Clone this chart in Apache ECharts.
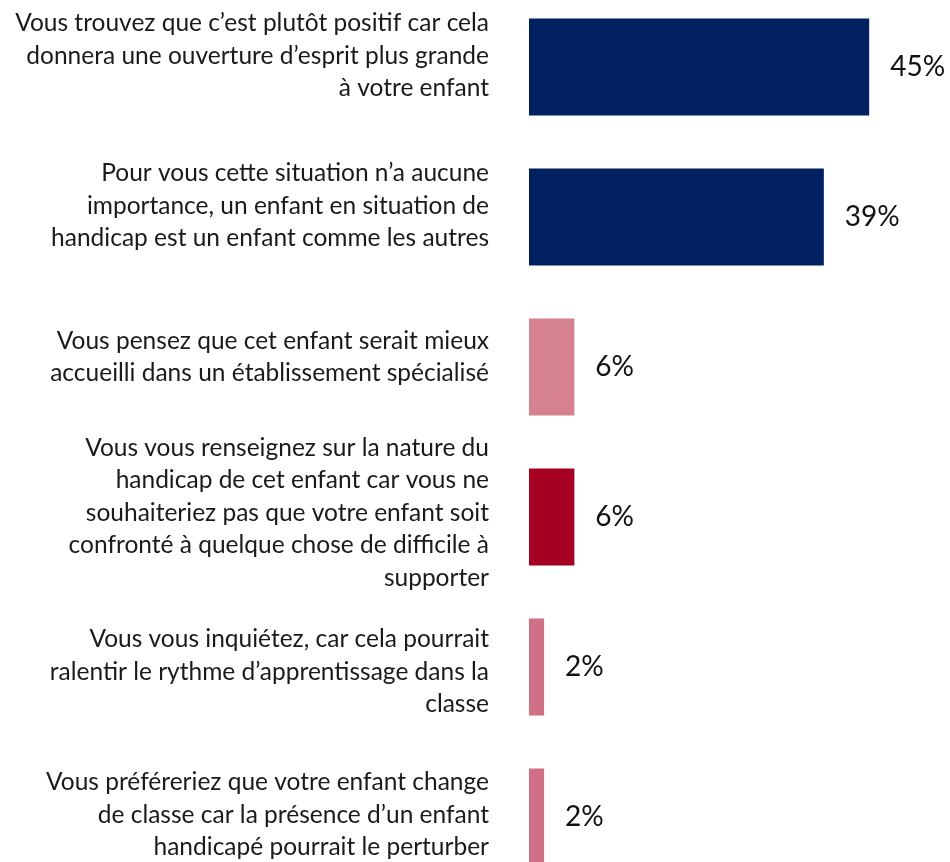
<!DOCTYPE html>
<html>
<head>
<meta charset="utf-8">
<script src="https://cdn.jsdelivr.net/npm/echarts@6/dist/echarts.min.js"></script>
<style>
  html, body { margin: 0; padding: 0; background: #fff; overflow: hidden; }
  body { height: 862px; }
  #chart { width: 950px; height: 900px; margin-top: -8px; }
</style>
</head>
<body>
<div id="chart"></div>
<script>
// Libellés des réponses
const categories = [
    'Vous trouvez que c’est plutôt positif car cela\ndonnera une ouverture d’esprit plus grande\nà votre enfant',
    'Pour vous cette situation n’a aucune\nimportance, un enfant en situation de\nhandicap est un enfant comme les autres',
    'Vous pensez que cet enfant serait mieux\naccueilli dans un établissement spécialisé',
    'Vous vous renseignez sur la nature du\nhandicap de cet enfant car vous ne\nsouhaiteriez pas que votre enfant soit\nconfronté à quelque chose de difficile à\nsupporter',
    'Vous vous inquiétez, car cela pourrait\nralentir le rythme d’apprentissage dans la\nclasse',
    'Vous préféreriez que votre enfant change\nde classe car la présence d’un enfant\nhandicapé pourrait le perturber'
];
// Pourcentages
const values = [45, 39, 6, 6, 2, 2];
const barColors = ['#002060', '#002060', '#D5818F', '#A50021', '#D16F84', '#D16F84'];
// décalage vertical des libellés (px, négatif = vers le haut)
const labelShift = [-11, -11, -10, -4, 5, -2];

const chart = echarts.init(document.getElementById('chart'));

// une ligne vide en plus, au-dessus ou au-dessous, pour décaler le bloc de texte
const rich = {};
labelShift.forEach((d, i) => {
    rich['s' + i] = { fontSize: 1, lineHeight: Math.abs(d) * 2 };
});

chart.setOption({
    animation: false,
    grid: {
        left: 529,
        width: 378,
        top: 0,
        height: 900
    },
    xAxis: {
        type: 'value',
        min: 0,
        max: 50,
        show: false
    },
    yAxis: {
        type: 'category',
        inverse: true,
        data: categories,
        axisLine: { show: false },
        axisTick: { show: false },
        axisLabel: {
            margin: 40,
            align: 'right',
            fontFamily: 'Lato',
            fontSize: 24.5,
            lineHeight: 32.5,
            color: '#1a1a1a',
            rich: rich,
            formatter: function(value, index) {
                const d = labelShift[index];
                const sp = '{s' + index + '| }';
                return d < 0 ? value + '\n' + sp : sp + '\n' + value;
            }
        }
    },
    series: [{
        type: 'bar',
        barWidth: 97,
        data: values.map((v, i) => ({ value: v, itemStyle: { color: barColors[i] } })),
        label: {
            show: true,
            position: 'right',
            distance: 21,
            formatter: '{c}%',
            fontFamily: 'Lato',
            fontSize: 28,
            color: '#111'
        }
    }]
});
</script>
</body>
</html>
